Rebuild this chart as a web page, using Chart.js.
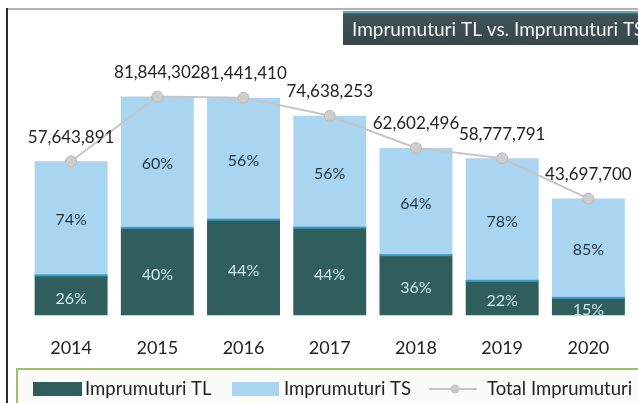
<!DOCTYPE html>
<html><head><meta charset="utf-8">
<script src="https://cdn.jsdelivr.net/npm/chart.js@4.4.1/dist/chart.umd.min.js"></script>
<style>html,body{margin:0;padding:0;background:#fff;}#wrap{width:638px;height:403px;position:relative;}</style>
</head><body><div id="wrap"><canvas id="c" width="638" height="403"></canvas></div>
<script>
const years = ['2014','2015','2016','2017','2018','2019','2020'];
const totals = [57643891, 81844302, 81441410, 74638253, 62602496, 58777791, 43697700];
const pctTL = [26, 40, 44, 44, 36, 22, 15];
const pctTS = [74, 60, 56, 56, 64, 78, 85];
const seriesNames = ['Imprumuturi TL', 'Imprumuturi TS', 'Total Imprumuturi'];
const titleText = 'Imprumuturi TL vs. Imprumuturi TS';

const valuesTL = totals.map((t, i) => t * pctTL[i] / 100);
const valuesTS = totals.map((t, i) => t * pctTS[i] / 100);

const FONT = 'Lato';
const C_TL = '#2f5e5d', C_TS = '#a9d5f0', C_EDGE = '#3c9cc4';
const fmt = n => n.toLocaleString('en-US');

const deco = {
  id: 'deco',
  beforeDraw(chart) {
    const ctx = chart.ctx;
    ctx.save();
    ctx.fillStyle = '#fff'; ctx.fillRect(0, 0, 638, 403);
    ctx.strokeStyle = '#9a9a9a'; ctx.lineWidth = 1.5;
    ctx.beginPath(); ctx.moveTo(7, 9); ctx.lineTo(638, 9); ctx.stroke();
    ctx.strokeStyle = '#2a2a2a'; ctx.lineWidth = 2;
    ctx.beginPath(); ctx.moveTo(7, 8); ctx.lineTo(7, 403); ctx.stroke();
    ctx.restore();
  },
  afterDatasetsDraw(chart) {
    const ctx = chart.ctx;
    ctx.save();
    const mTL = chart.getDatasetMeta(0), mTS = chart.getDatasetMeta(1);
    mTL.data.forEach(b => {
      const w = b.width;
      ctx.fillStyle = C_EDGE;
      ctx.fillRect(b.x - w / 2, b.y - 1, w, 2);
    });
    ctx.textAlign = 'center'; ctx.textBaseline = 'middle';
    ctx.font = '16px ' + FONT;
    mTL.data.forEach((b, i) => {
      ctx.fillStyle = '#cfe9ef';
      ctx.fillText(pctTL[i] + '%', b.x, (b.y + b.base) / 2 + 3);
    });
    mTS.data.forEach((b, i) => {
      ctx.fillStyle = '#1e3440';
      ctx.fillText(pctTS[i] + '%', b.x, (b.y + b.base) / 2 + 2);
    });
    ctx.restore();
  },
  afterDraw(chart) {
    const ctx = chart.ctx;
    ctx.save();
    const mL = chart.getDatasetMeta(2);
    ctx.textAlign = 'center'; ctx.textBaseline = 'middle';
    ctx.font = '17px ' + FONT; ctx.fillStyle = '#222';
    mL.data.forEach((p, i) => {
      ctx.fillText(fmt(totals[i]), p.x, p.y - 24);
    });
    // title box
    const g = ctx.createLinearGradient(0, 11, 0, 45);
    g.addColorStop(0, '#55707a'); g.addColorStop(0.15, '#3f5256'); g.addColorStop(1, '#38464a');
    ctx.fillStyle = g; ctx.fillRect(343, 11, 300, 34);
    ctx.fillStyle = '#5fa9c0'; ctx.fillRect(343, 11, 300, 2);
    ctx.fillStyle = '#f2f6f6'; ctx.textAlign = 'left';
    ctx.font = '19px ' + FONT;
    ctx.fillText(titleText, 352, 30);
    // legend box
    ctx.fillStyle = '#fbfbf8'; ctx.fillRect(17, 369, 625, 40);
    ctx.strokeStyle = '#9fbf6a'; ctx.lineWidth = 2;
    ctx.strokeRect(17, 369, 630, 40);
    ctx.fillStyle = C_TL; ctx.fillRect(33, 382, 49, 14);
    ctx.fillStyle = C_TS; ctx.fillRect(232, 382, 47, 14);
    ctx.strokeStyle = '#c4c4c4'; ctx.lineWidth = 2;
    ctx.beginPath(); ctx.moveTo(429, 389); ctx.lineTo(477, 389); ctx.stroke();
    ctx.fillStyle = '#c9c9c9'; ctx.beginPath(); ctx.arc(455, 389, 4.5, 0, Math.PI * 2); ctx.fill();
    ctx.fillStyle = '#222'; ctx.font = '18.5px ' + FONT;
    ctx.fillText(seriesNames[0], 85, 389);
    ctx.fillText(seriesNames[1], 284, 389);
    ctx.fillText(seriesNames[2], 487, 389);
    ctx.restore();
  }
};

new Chart(document.getElementById('c'), {
  data: {
    labels: years,
    datasets: [
      { type: 'bar', label: seriesNames[0], data: valuesTL, backgroundColor: C_TL, stack: 's', order: 2 },
      { type: 'bar', label: seriesNames[1], data: valuesTS, backgroundColor: C_TS, stack: 's', order: 2 },
      { type: 'line', label: seriesNames[2], data: totals, stack: 'line', order: 1,
        borderColor: '#c6c6c6', borderWidth: 2, pointRadius: 5.5, pointBackgroundColor: '#cdcdcd',
        pointBorderColor: '#bdbdbd', pointBorderWidth: 1, tension: 0 }
    ]
  },
  options: {
    responsive: false, animation: false,
    layout: { padding: { left: 28, right: 6, top: 48, bottom: 22 } },
    datasets: { bar: { barPercentage: 0.846, categoryPercentage: 1 } },
    plugins: { legend: { display: false }, tooltip: { enabled: false }, title: { display: false } },
    scales: {
      x: { stacked: true, grid: { display: false, drawTicks: false }, border: { display: false },
           ticks: { padding: 22, color: '#222', font: { family: FONT, size: 18 } } },
      y: { stacked: true, display: false, min: 0, max: 100000000 }
    }
  },
  plugins: [deco]
});
</script></body></html>
